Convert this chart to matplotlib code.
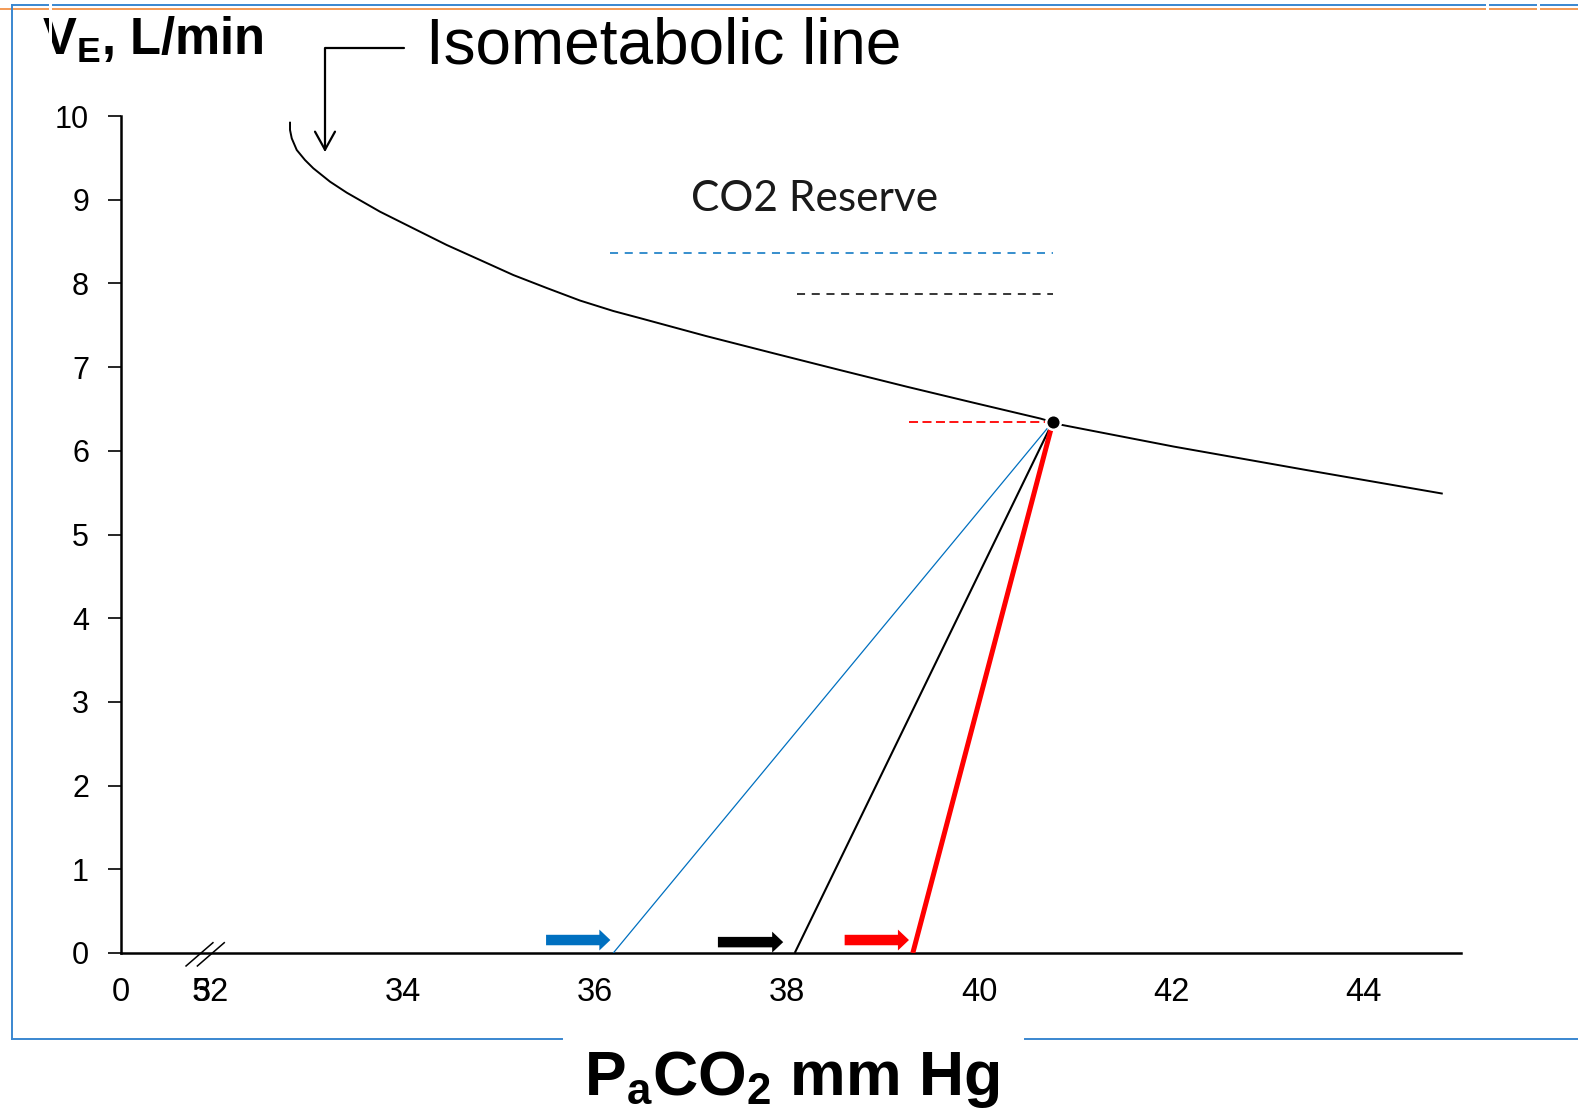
import matplotlib
matplotlib.use("Agg")
import matplotlib.pyplot as plt
from matplotlib.lines import Line2D
from matplotlib.patches import Rectangle, FancyArrow

plt.rcParams['font.family'] = ['Liberation Sans', 'DejaVu Sans']
plt.rcParams['mathtext.fontset'] = 'custom'
plt.rcParams['mathtext.rm'] = 'Liberation Sans'
plt.rcParams['mathtext.it'] = 'Liberation Sans:bold'
plt.rcParams['mathtext.bf'] = 'Liberation Sans:bold'
plt.rcParams['mathtext.default'] = 'bf'
plt.rcParams['lines.scale_dashes'] = False

# ---------------- data ----------------
iso_x = [32.823, 32.823, 32.841, 32.893, 32.979, 33.066, 33.240, 33.414, 33.760,
         34.107, 34.455, 34.802, 35.149, 35.497, 35.844, 36.191, 36.469,
         37.16, 37.86, 38.55, 39.25, 39.94, 40.64, 40.86, 42.03, 43.41, 44.82]
iso_y = [9.920, 9.833, 9.733, 9.594, 9.474, 9.375, 9.215, 9.084, 8.857,
         8.658, 8.459, 8.280, 8.100, 7.945, 7.795, 7.670, 7.585,
         7.37, 7.165, 6.965, 6.765, 6.575, 6.385, 6.31, 6.05, 5.77, 5.49]

apex_x, apex_y = 40.77, 6.35
intercepts = [36.19, 38.08, 39.31]          # PaCO2 at VE = 0
line_colors = ['#0070C0', '#000000', '#FF0000']
line_widths = [0.9, 1.5, 3.6]

reserve_y = [8.36, 7.87, 6.34]
reserve_x0 = [36.16, 38.10, 39.27]
reserve_x1 = [40.77, 40.77, 40.69]

arrow_x0 = [35.49, 37.28, 38.60]
arrow_x1 = [36.16, 37.96, 39.27]
arrow_y = [0.155, 0.13, 0.155]

xtick_pos = [31.0625, 31.89, 32, 34, 36, 38, 40, 42, 44]
xtick_lab = ['0', '5', '32', '34', '36', '38', '40', '42', '44']
ytick_pos = list(range(0, 11))
ytick_lab = [str(v) for v in ytick_pos]

W, H = 1578, 1112
fig = plt.figure(figsize=(W / 100, H / 100), dpi=100)
fx = lambda p: p / W
fy = lambda p: 1 - p / H

ax = fig.add_axes([fx(121), fy(953), fx(1461) - fx(121), fy(116) - fy(953)])
ax.set_xlim(31.0625, 45.02)
ax.set_ylim(0, 10)
for s in ['top', 'right']:
    ax.spines[s].set_visible(False)
for s in ['left', 'bottom']:
    ax.spines[s].set_linewidth(1.8)

ax.set_xticks(xtick_pos)
ax.set_xticklabels(xtick_lab, fontsize=23.5)
ax.set_yticks(ytick_pos)
ax.set_yticklabels(ytick_lab, fontsize=22)
ax.tick_params(axis='x', length=0, pad=17)
ax.tick_params(axis='y', length=9.5, width=1.2, pad=13.5, direction='out')

# isometabolic curve
ax.plot(iso_x, iso_y, color='black', lw=1.4, zorder=3,
        solid_joinstyle='round')

# CO2 response lines
for xi, c, lw in zip(intercepts, line_colors, line_widths):
    ax.plot([xi, apex_x], [0, apex_y], color=c, lw=lw, zorder=4,
            solid_capstyle='butt')

# apex point
ax.plot([apex_x], [apex_y], 'o', color='black', ms=10.5, mec='white',
        mew=1.8, zorder=6)

# reserve dashed lines
dash_specs = [(1.1, (5.8, 4.8)), (1.1, (5.8, 4.8)), (1.3, (6.5, 3.2))]
for yv, x0, x1, c, (lw, ds) in zip(reserve_y, reserve_x0, reserve_x1,
                                     line_colors, dash_specs):
    ln, = ax.plot([x0, x1], [yv, yv], color=c, lw=lw, zorder=2)
    ln.set_dashes(ds)

# colored arrows on axis
for x0, x1, yv, c in zip(arrow_x0, arrow_x1, arrow_y, line_colors):
    ar = FancyArrow(x0, yv, x1 - x0, 0, width=0.125, head_width=0.25,
                    head_length=0.115, length_includes_head=True,
                    color=c, lw=0, zorder=5)
    ax.add_patch(ar)

# axis break marks
for off in [0.0, 0.118]:
    ax.plot([31.74 + off, 32.02 + off], [-0.155, 0.123], color='black',
            lw=1.1, clip_on=False, zorder=6)

# texts
fig.text(fx(815), fy(211), 'CO2 Reserve', family=['Lato', 'DejaVu Sans'],
         fontsize=30.5, color='#1a1a1a', ha='center', va='baseline')
fig.text(fx(426), fy(64), 'Isometabolic line', fontsize=46,
         ha='left', va='baseline')
fig.text(fx(42), fy(55), r'$V_E$, L/min', fontsize=36.5, fontweight='bold',
         ha='left', va='baseline')
fig.text(fx(792), fy(1095), r'$P_aCO_2$ mm Hg', fontsize=45,
         fontweight='bold', ha='center', va='baseline')

# isometabolic pointer
ax.annotate('', xy=(325, H - 152), xycoords='figure pixels',
            xytext=(404, H - 48), textcoords='figure pixels',
            arrowprops=dict(arrowstyle='->,head_length=0.65,head_width=0.36',
                            connectionstyle='angle,angleA=0,angleB=90,rad=0',
                            color='black', lw=1.6, shrinkA=0, shrinkB=0,
                            mutation_scale=20))

# slide frame lines
frame_blue = '#3A87D0'
frame_orange = '#F39A55'
def fline(x0, y0, x1, y1, c, lw):
    fig.add_artist(Line2D([fx(x0), fx(x1)], [fy(y0), fy(y1)], color=c, lw=lw,
                          transform=fig.transFigure))

fline(0, 9, W, 9, frame_orange, 1.4)
fline(12, 5, W, 5, frame_blue, 1.4)
fline(12, 5, 12, 1039, frame_blue, 1.4)
fline(12, 1039, 562, 1039, frame_blue, 1.4)
fline(1025, 1039, W, 1039, frame_blue, 1.4)
for gx, gw in [(49, 3), (1486, 3), (1537, 3)]:
    fig.add_artist(Rectangle((fx(gx), fy(12 if gx > 100 else 58)), fx(gw),
                             (12 if gx > 100 else 58) / H, color='white',
                             transform=fig.transFigure, lw=0, zorder=10))

fig.savefig('out.png', dpi=100)
